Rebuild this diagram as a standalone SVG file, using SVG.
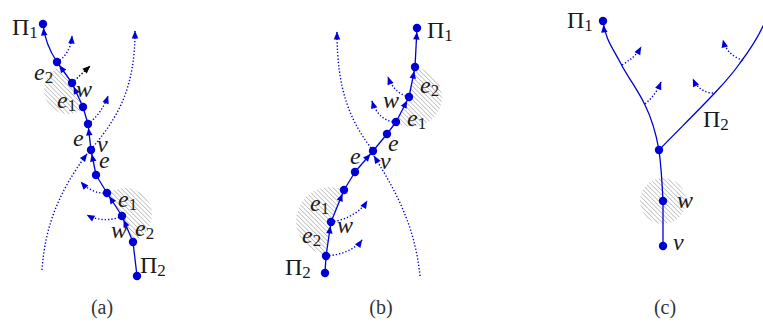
<svg xmlns="http://www.w3.org/2000/svg" width="763" height="324" viewBox="0 0 763 324">
<style>
.bg{fill:#fff}
.edge{fill:none;stroke:#0000d4;stroke-width:1.3}
.dot{fill:none;stroke:#0000d4;stroke-width:1.4;stroke-dasharray:1.3 2}
.dotk{fill:none;stroke:#000;stroke-width:1.4;stroke-dasharray:1.3 2}
.node{fill:#0000d4}
.lab{font-family:"Liberation Serif","DejaVu Serif",serif;font-size:24px;fill:#1a1a1a}
.it{font-style:italic}
.sub{font-size:17px;font-style:normal}
.cap{font-family:"Liberation Serif","DejaVu Serif",serif;font-size:20px;fill:#333;text-anchor:middle}
.hatch{fill:url(#hp)}
</style>
<defs>
<pattern id="hp" patternUnits="userSpaceOnUse" width="3.2" height="3.2" patternTransform="rotate(-45)">
<line x1="0" y1="0" x2="0" y2="3.2" stroke="#7a7a7a" stroke-width="0.8"/>
</pattern>
<marker id="ah" markerUnits="userSpaceOnUse" markerWidth="20" markerHeight="12" refX="11.5" refY="3.25" orient="auto" overflow="visible"><path d="M0,0 L7.5,3.25 L0,6.5 z" fill="#0000d4"/></marker>
<marker id="ad" markerUnits="userSpaceOnUse" markerWidth="20" markerHeight="12" refX="7.5" refY="3.25" orient="auto" overflow="visible"><path d="M0,0 L8,3.25 L0,6.5 z" fill="#0000d4"/></marker>
<marker id="adk" markerUnits="userSpaceOnUse" markerWidth="20" markerHeight="12" refX="7.5" refY="3.25" orient="auto" overflow="visible"><path d="M0,0 L8,3.25 L0,6.5 z" fill="#000"/></marker>
<clipPath id="ca1"><path d="M0,40 L50,40 L57,62 L72,83 L83,107 L88,124 L88,140 L0,140 Z"/></clipPath>
<clipPath id="ca2"><path d="M100,170 L107,193 L122,216 L133,242 L137,270 L200,270 L200,170 Z"/></clipPath>
<clipPath id="cb1"><path d="M390,140 L396,122 L409,97 L415,67 L417,50 L470,50 L470,140 Z"/></clipPath>
<clipPath id="cb2"><path d="M350,170 L344,190 L331,222 L326,256 L325,270 L280,270 L280,170 Z"/></clipPath>
</defs>
<rect class="bg" width="763" height="324"/>

<g id="hatching">
<circle class="hatch" cx="68" cy="90" r="24" clip-path="url(#ca1)"/>
<circle class="hatch" cx="125" cy="215" r="27" clip-path="url(#ca2)"/>
<circle class="hatch" cx="412" cy="97" r="30" clip-path="url(#cb1)"/>
<circle class="hatch" cx="330" cy="221" r="34" clip-path="url(#cb2)"/>
<circle class="hatch" cx="663" cy="201" r="23"/>
</g>

<g id="connectors">
<path class="edge" d="M137,276 L133,242"/>
<path class="edge" d="M133,242 L122,216" marker-end="url(#ah)"/>
<path class="edge" d="M122,216 L107,193" marker-end="url(#ah)"/>
<path class="edge" d="M107,193 L96,175"/>
<path class="edge" d="M96,175 L91,150" marker-end="url(#ah)"/>
<path class="edge" d="M91,150 L88,124" marker-end="url(#ah)"/>
<path class="edge" d="M88,124 L83,107"/>
<path class="edge" d="M83,107 L72,83" marker-end="url(#ah)"/>
<path class="edge" d="M72,83 L57,62" marker-end="url(#ah)"/>
<path class="edge" d="M57,62 Q45,44 43,24" marker-end="url(#ah)"/>
<path class="dot" d="M42,270 C45,225 60,190 87,154" marker-end="url(#ad)"/>
<path class="dot" d="M93,147 C120,115 135,85 135,31" marker-end="url(#ad)"/>
<path class="dot" d="M57,62 C64,58 71,50 72,36" marker-end="url(#ad)"/>
<path class="dotk" d="M72,83 L90,66" marker-end="url(#adk)"/>
<path class="dot" d="M88,124 C96,118 104,108 108,96" marker-end="url(#ad)"/>
<path class="dot" d="M107,193 C98,194 88,190 81,182" marker-end="url(#ad)"/>
<path class="dot" d="M122,216 C112,221 98,221 87,215" marker-end="url(#ad)"/>
<path class="edge" d="M325,273 L326,256"/>
<path class="edge" d="M326,256 L331,222" marker-end="url(#ah)"/>
<path class="edge" d="M331,222 L344,190" marker-end="url(#ah)"/>
<path class="edge" d="M344,190 L355,172"/>
<path class="edge" d="M355,172 L373,151" marker-end="url(#ah)"/>
<path class="edge" d="M373,151 L387,134"/>
<path class="edge" d="M387,134 L396,122"/>
<path class="edge" d="M396,122 L409,97" marker-end="url(#ah)"/>
<path class="edge" d="M409,97 L415,67" marker-end="url(#ah)"/>
<path class="edge" d="M415,67 L417,28" marker-end="url(#ah)"/>
<path class="dot" d="M420,276 C415,225 395,190 374,156" marker-end="url(#ad)"/>
<path class="dot" d="M371,148 C350,120 337,90 337,32" marker-end="url(#ad)"/>
<path class="dot" d="M409,97 C400,95 392,88 388,77" marker-end="url(#ad)"/>
<path class="dot" d="M396,122 C385,122 376,114 372,101" marker-end="url(#ad)"/>
<path class="dot" d="M331,222 C345,220 360,213 367,201" marker-end="url(#ad)"/>
<path class="dot" d="M326,256 C340,255 355,250 362,240" marker-end="url(#ad)"/>
<path class="edge" d="M663,246 L663,201"/>
<path class="edge" d="M663,201 C662,180 661,165 659,150"/>
<path class="edge" d="M659,150 C655,128 650,115 645,105 C637,88 628,78 620,62 C612,47 605,38 603,21" marker-end="url(#ah)"/>
<path class="edge" d="M659,150 C690,118 725,85 740,63 C750,50 757,40 765,22"/>
<path class="dot" d="M622,65 C630,60 636,56 641,47" marker-end="url(#ad)"/>
<path class="dot" d="M645,104 C652,98 657,92 661,82" marker-end="url(#ad)"/>
<path class="dot" d="M713,93 C705,93 697,88 693,79" marker-end="url(#ad)"/>
<path class="dot" d="M743,60 C735,58 726,52 723,40" marker-end="url(#ad)"/>
</g>

<g id="a-Pi2"><circle class="node" cx="137" cy="276" r="4.2"/><text class="lab" x="140" y="273">Π<tspan class="sub" dy="3">2</tspan></text></g>
<g id="a-n1"><circle class="node" cx="133" cy="242" r="4.2"/><text class="lab it" x="135" y="236">e<tspan class="sub" dy="3">2</tspan></text></g>
<g id="a-w2"><circle class="node" cx="122" cy="216" r="4.2"/><text class="lab it" x="111" y="238">w</text></g>
<g id="a-n3"><circle class="node" cx="107" cy="193" r="4.2"/><text class="lab it" x="118" y="207">e<tspan class="sub" dy="3">1</tspan></text></g>
<g id="a-n4"><circle class="node" cx="96" cy="175" r="4.2"/><text class="lab it" x="99" y="168">e</text></g>
<g id="a-v"><circle class="node" cx="91" cy="150" r="4.2"/><text class="lab it" x="97" y="152">v</text></g>
<g id="a-n6"><circle class="node" cx="88" cy="124" r="4.2"/><text class="lab it" x="73" y="146">e</text></g>
<g id="a-n7"><circle class="node" cx="83" cy="107" r="4.2"/><text class="lab it" x="57" y="108">e<tspan class="sub" dy="3">1</tspan></text></g>
<g id="a-w1"><circle class="node" cx="72" cy="83" r="4.2"/><text class="lab it" x="76" y="97">w</text></g>
<g id="a-n9"><circle class="node" cx="57" cy="62" r="4.2"/><text class="lab it" x="34" y="80">e<tspan class="sub" dy="3">2</tspan></text></g>
<g id="a-Pi1"><circle class="node" cx="43" cy="24" r="4.2"/><text class="lab" x="12" y="35">Π<tspan class="sub" dy="3">1</tspan></text></g>

<g id="b-Pi2"><circle class="node" cx="325" cy="273" r="4.2"/><text class="lab" x="285" y="275">Π<tspan class="sub" dy="3">2</tspan></text></g>
<g id="b-n1"><circle class="node" cx="326" cy="256" r="4.2"/><text class="lab it" x="302" y="243">e<tspan class="sub" dy="3">2</tspan></text></g>
<g id="b-w2"><circle class="node" cx="331" cy="222" r="4.2"/><text class="lab it" x="337" y="233">w</text></g>
<g id="b-n3"><circle class="node" cx="344" cy="190" r="4.2"/><text class="lab it" x="310" y="211">e<tspan class="sub" dy="3">1</tspan></text></g>
<g id="b-n4"><circle class="node" cx="355" cy="172" r="4.2"/><text class="lab it" x="350" y="164">e</text></g>
<g id="b-v"><circle class="node" cx="373" cy="151" r="4.2"/><text class="lab it" x="380" y="169">v</text></g>
<g id="b-n6"><circle class="node" cx="387" cy="134" r="4.2"/><text class="lab it" x="388" y="151">e</text></g>
<g id="b-n7"><circle class="node" cx="396" cy="122" r="4.2"/><text class="lab it" x="407" y="126">e<tspan class="sub" dy="3">1</tspan></text></g>
<g id="b-w1"><circle class="node" cx="409" cy="97" r="4.2"/><text class="lab it" x="383" y="108">w</text></g>
<g id="b-n9"><circle class="node" cx="415" cy="67" r="4.2"/><text class="lab it" x="420" y="93">e<tspan class="sub" dy="3">2</tspan></text></g>
<g id="b-Pi1"><circle class="node" cx="417" cy="28" r="4.2"/><text class="lab" x="427" y="38">Π<tspan class="sub" dy="3">1</tspan></text></g>

<g id="c-Pi1"><circle class="node" cx="603" cy="21" r="4.2"/><text class="lab" x="567" y="28">Π<tspan class="sub" dy="3">1</tspan></text></g>
<g id="c-branch"><circle class="node" cx="659" cy="150" r="4.2"/></g>
<g id="c-Pi2"><text class="lab" x="703" y="127">Π<tspan class="sub" dy="3">2</tspan></text></g>
<g id="c-w"><circle class="node" cx="663" cy="201" r="4.2"/><text class="lab it" x="677" y="208">w</text></g>
<g id="c-v"><circle class="node" cx="663" cy="246" r="4.2"/><text class="lab it" x="673" y="250">v</text></g>

<g id="captions">
<text class="cap" x="102" y="314">(a)</text>
<text class="cap" x="381" y="314">(b)</text>
<text class="cap" x="665" y="314">(c)</text>
</g>
</svg>
